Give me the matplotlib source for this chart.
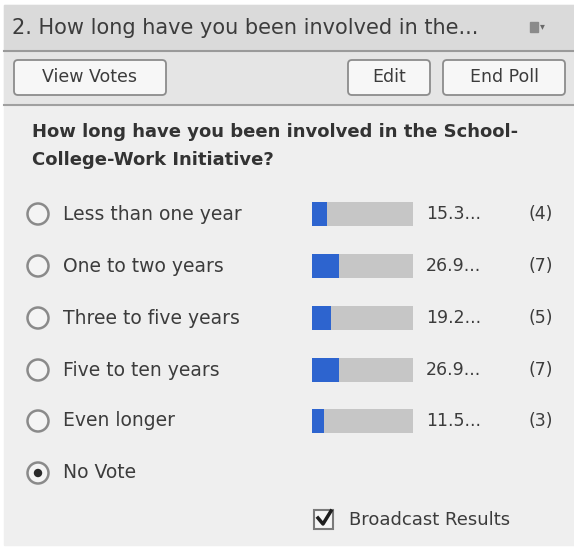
import matplotlib.pyplot as plt
from matplotlib.patches import Rectangle, FancyBboxPatch, Circle

# Poll data
title = "2. How long have you been involved in the..."
question = ["How long have you been involved in the School-",
            "College-Work Initiative?"]
options = ["Less than one year", "One to two years", "Three to five years",
           "Five to ten years", "Even longer"]
percents = [15.3, 26.9, 19.2, 26.9, 11.5]
pct_labels = ["15.3...", "26.9...", "19.2...", "26.9...", "11.5..."]
counts = [4, 7, 5, 7, 3]

W, H = 574, 548
plt.rcParams['font.family'] = ['DejaVu Sans']
txt = '#3c3c3c'

fig = plt.figure(figsize=(W / 100, H / 100), dpi=100)
ax = fig.add_axes([0, 0, 1, 1])
ax.set_xlim(0, W)
ax.set_ylim(H, 0)
ax.axis('off')

# panel backgrounds
ax.add_patch(Rectangle((4, 5), W - 4, H - 8, color='#efefef'))
ax.add_patch(Rectangle((4, 5), W - 4, 46, color='#dadada'))
ax.add_patch(Rectangle((4, 52), W - 4, 52, color='#e5e5e5'))
ax.plot([4, W], [51, 51], color='#9a9a9a', lw=1.5)
ax.plot([4, W], [105, 105], color='#a0a0a0', lw=1.5)

ax.text(12, 28, title, fontsize=15, color=txt, va='center')
ax.add_patch(Rectangle((530, 22), 8, 10, color='#8a8a8a'))
ax.text(540, 26, "\u25be", fontsize=7, color='#6a6a6a', va='center')

# toolbar buttons
for x0, x1, label in [(14, 166, "View Votes"), (348, 430, "Edit"), (443, 565, "End Poll")]:
    ax.add_patch(FancyBboxPatch((x0, 60), x1 - x0, 35, boxstyle="round,pad=0,rounding_size=4",
                                fc='#f7f7f7', ec='#8c8c8c', lw=1.3))
    ax.text((x0 + x1) / 2, 77.5, label, fontsize=12.5, color=txt, ha='center', va='center')

# question
ax.text(32, 132, question[0], fontsize=13, fontweight='bold', color='#333333', va='center')
ax.text(32, 160, question[1], fontsize=13, fontweight='bold', color='#333333', va='center')

# options
rows = [214, 266, 318, 370, 421]
for y, label in zip(rows, options):
    ax.add_patch(Circle((38, y), 10.5, fc='#f4f4f4', ec='#8a8a8a', lw=1.8))
    ax.text(63, y, label, fontsize=13.5, color=txt, va='center')
ax.add_patch(Circle((38, 473), 10.5, fc='#f4f4f4', ec='#8a8a8a', lw=1.8))
ax.add_patch(Circle((38, 473), 3.5, color='#2a2a2a'))
ax.text(63, 473, "No Vote", fontsize=13.5, color=txt, va='center')

for y, pl, c in zip(rows, pct_labels, counts):
    ax.text(426, y, pl, fontsize=12.5, color=txt, va='center')
    ax.text(553, y, f"({c})", fontsize=12.5, color=txt, va='center', ha='right')

# result bars
bx = fig.add_axes([312 / W, 0, 101 / W, 1])
bx.set_xlim(0, 100)
bx.set_ylim(H, 0)
bx.axis('off')
bx.barh(rows, [100] * len(rows), height=24, color='#c6c6c6')
bx.barh(rows, percents, height=24, color='#2d64cf')

# broadcast checkbox
ax.add_patch(Rectangle((314, 510), 19, 19, fc='#f6f6f6', ec='#7a7a7a', lw=1.5))
ax.plot([318, 323, 331], [518, 524, 511], color='#1e1e1e', lw=2.5)
ax.text(349, 520, "Broadcast Results", fontsize=13, color=txt, va='center')

fig.savefig('out.png', dpi=100, facecolor='white')
